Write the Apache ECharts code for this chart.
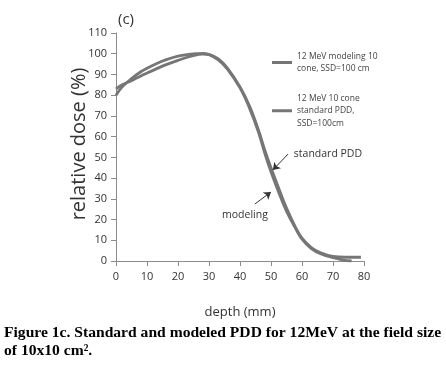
<!DOCTYPE html>
<html>
<head>
<meta charset="utf-8">
<script src="https://cdn.jsdelivr.net/npm/echarts@6/dist/echarts.min.js"></script>
<style>
  html, body { margin: 0; padding: 0; background: #fff; }
  #chart { width: 446px; height: 377px; }
</style>
</head>
<body>
<div id="chart"></div>
<script>
// 深度 (mm) 与相对剂量 (%)
const modelingDepth = [0, 2, 5, 8, 10, 13, 16, 20, 23, 26, 28, 30, 33, 36, 40, 43, 46, 48, 50, 52, 55, 58, 60, 63, 66, 70, 74, 79];
const modelingDose  = [83, 85, 87, 89.3, 90.7, 92.7, 94.6, 96.8, 98.3, 99.5, 100, 99.7, 97.5, 93, 84, 75, 63, 53.5, 45, 37, 25.5, 16, 11, 6.5, 4, 2.2, 1.8, 1.8];
const standardDepth = [0, 2, 5, 8, 10, 13, 16, 20, 23, 26, 28, 30, 33, 36, 40, 43, 46, 48, 50, 52, 55, 58, 60, 63, 66, 70, 73, 76];
const standardDose  = [80, 84, 88, 91.3, 93, 95.2, 97, 98.8, 99.6, 100, 100, 99.5, 97, 92.5, 83.5, 74, 62, 52, 43, 35, 24, 15.5, 10.5, 6, 3.5, 1.6, 0.6, 0];
const xTicks = [0, 10, 20, 30, 40, 50, 60, 70, 80];
const yTicks = [0, 10, 20, 30, 40, 50, 60, 70, 80, 90, 100, 110];

const zip = (xs, ys) => xs.map((x, i) => [x, ys[i]]);

const chart = echarts.init(document.getElementById("chart"));

const lineColor = "#767676";
const axisColor = "#8c8c8c";
const font = "Open Sans";

const option = {
  animation: false,
  backgroundColor: "#fff",
  grid: { left: 116, right: 82, top: 33, bottom: 116 },
  legend: {
    orient: "vertical",
    left: 267,
    top: 45,
    itemWidth: 20,
    itemHeight: 3,
    itemGap: 17,
    icon: "rect",
    textStyle: { fontFamily: font, fontSize: 8.5, color: "#444", lineHeight: 12.5 },
    data: [
      { name: "12 MeV modeling 10\ncone, SSD=100 cm" },
      { name: "12 MeV 10 cone\nstandard PDD,\nSSD=100cm" },
    ],
  },
  xAxis: {
    type: "value",
    min: 0,
    max: 80,
    interval: 10,
    name: "depth (mm)",
    nameLocation: "middle",
    nameGap: 45,
    nameTextStyle: { fontFamily: font, fontSize: 13, color: "#333" },
    axisLine: { show: true, lineStyle: { color: axisColor, width: 1 } },
    axisTick: { show: true, length: 5, lineStyle: { color: axisColor } },
    axisLabel: { fontFamily: font, fontSize: 11, color: "#333", margin: 10,
      formatter: (v) => (xTicks.includes(v) ? String(v) : "") },
    splitLine: { show: false },
  },
  yAxis: {
    type: "value",
    min: 0,
    max: 110,
    interval: 10,
    axisLine: { show: true, lineStyle: { color: axisColor, width: 1 } },
    axisTick: { show: true, length: 5, lineStyle: { color: axisColor } },
    axisLabel: { fontFamily: font, fontSize: 11, color: "#333", margin: 9,
      formatter: (v) => (yTicks.includes(v) ? String(v) : "") },
    splitLine: { show: false },
  },
  series: [
    {
      name: "12 MeV modeling 10\ncone, SSD=100 cm",
      type: "line",
      data: zip(modelingDepth, modelingDose),
      smooth: 0.4,
      showSymbol: false,
      lineStyle: { color: lineColor, width: 2.8 },
      itemStyle: { color: lineColor },
      markLine: {
        silent: true,
        symbol: ["none", "arrow"],
        symbolSize: 7,
        lineStyle: { color: "#333", width: 1, type: "solid" },
        label: { show: false },
        data: [
          [{ coord: [44.8, 27.5] }, { coord: [50, 33.3] }],
        ],
      },
    },
    {
      name: "12 MeV 10 cone\nstandard PDD,\nSSD=100cm",
      type: "line",
      data: zip(standardDepth, standardDose),
      smooth: 0.4,
      showSymbol: false,
      lineStyle: { color: lineColor, width: 2.8 },
      itemStyle: { color: lineColor },
      markLine: {
        silent: true,
        symbol: ["none", "arrow"],
        symbolSize: 7,
        lineStyle: { color: "#333", width: 1, type: "solid" },
        label: { show: false },
        data: [
          [{ coord: [55.5, 51.6] }, { coord: [50.6, 43.9] }],
        ],
      },
      markPoint: {
        silent: true,
        symbol: "rect",
        symbolSize: 1,
        itemStyle: { color: "transparent" },
        data: [
          { coord: [57.2, 51.8], label: { show: true, formatter: "standard PDD", position: "right", distance: 0,
              fontFamily: font, fontSize: 10.5, color: "#333" } },
          { coord: [41.6, 22.0], label: { show: true, formatter: "modeling", position: "inside",
              fontFamily: font, fontSize: 10.5, color: "#333" } },
        ],
      },
    },
  ],
  graphic: [
    { type: "text", left: 118, top: 12, style: { text: "(c)", font: "15px 'Open Sans'", fill: "#333" } },
    { type: "text", x: 79, y: 144, rotation: Math.PI / 2,
      style: { text: "relative dose (%)", font: "20px 'Open Sans'", fill: "#333", align: "center", verticalAlign: "middle" } },
    { type: "text", left: 4, top: 325,
      style: { text: "Figure 1c. Standard and modeled PDD for 12MeV at the field size", font: "bold 15.6px 'Liberation Serif'", fill: "#000" } },
    { type: "text", left: 4, top: 343,
      style: { text: "of 10x10 cm\u00b2.", font: "bold 15.6px 'Liberation Serif'", fill: "#000" } },
  ],
};

chart.setOption(option);
</script>
</body>
</html>
